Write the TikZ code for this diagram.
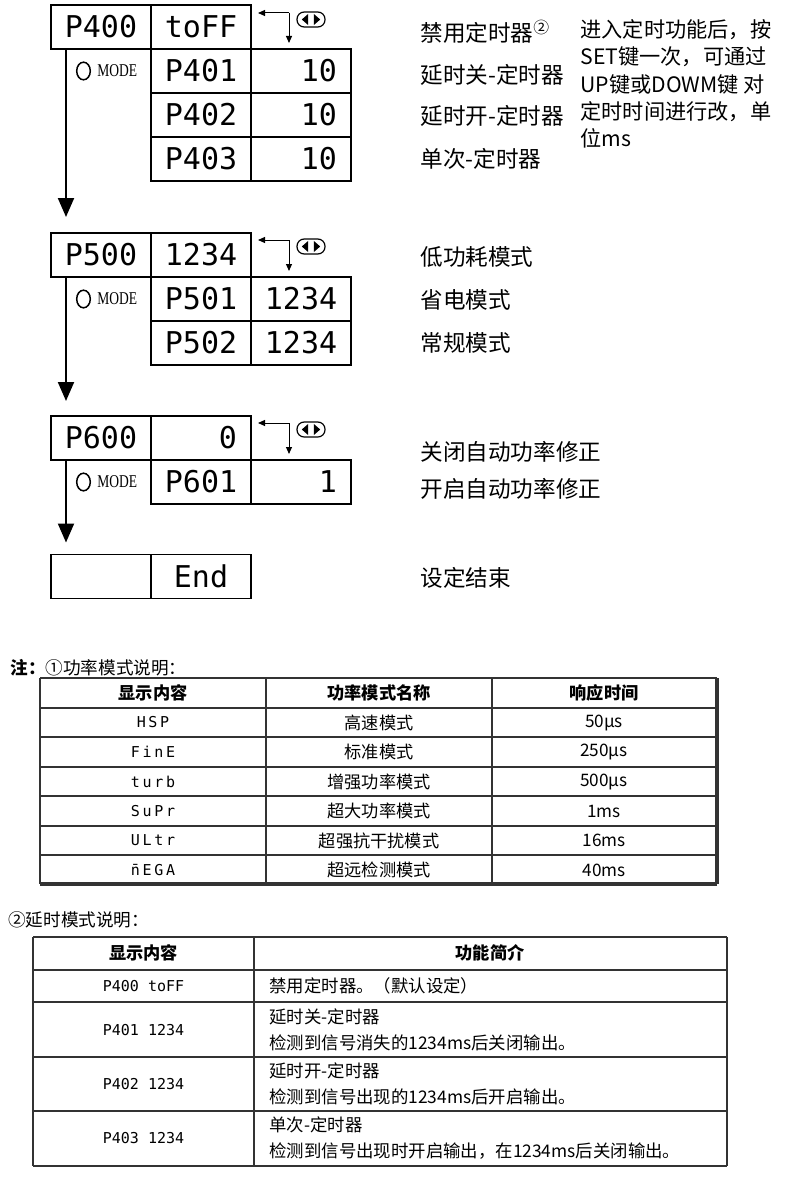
\documentclass[tikz,border=0pt]{standalone}
\usepackage{fontspec}
\setmainfont{Noto Sans CJK SC}
\newfontfamily\lcdfont{DejaVu Sans Mono}
\newfontfamily\lcdwide[LetterSpace=18]{DejaVu Sans Mono}
\newfontfamily\modefont[FakeStretch=0.75]{Liberation Serif}
\usetikzlibrary{positioning,arrows.meta}

\tikzset{
  lcd/.style={draw, line width=0.75pt, outer sep=0pt, inner sep=0pt,
    minimum width=50pt, minimum height=22pt, font=\lcdfont\fontsize{15}{15}\selectfont},
  lcdr/.style={lcd, text width=36pt, align=right},
  flow/.style={line width=1pt, -{Triangle[length=9.5pt,width=8pt]}},
  back/.style={line width=0.5pt, -{Triangle[length=3.5pt,width=3pt]}},
  keypad/.style={draw, line width=0.6pt, rounded corners=3.6pt, inner sep=0pt,
    minimum width=14pt, minimum height=7.5pt,
    path picture={
      \fill[sharp corners] ([xshift=-4.6pt]path picture bounding box.center) -- ++(3.2pt,2.8pt) -- ++(0,-5.6pt) -- cycle;
      \fill[sharp corners] ([xshift=4.6pt]path picture bounding box.center) -- ++(-3.2pt,2.8pt) -- ++(0,-5.6pt) -- cycle;}},
  mode/.style={anchor=west, inner sep=0pt, font=\modefont\fontsize{9}{9}\selectfont},
  lbl/.style={anchor=west, inner sep=0pt, font=\fontsize{11.3}{13}\selectfont},
  note/.style={anchor=west, inner sep=0pt, align=left, font=\fontsize{10.6}{12.3}\selectfont},
  title/.style={anchor=west, inner sep=0pt, font=\fontsize{8.8}{10}\selectfont},
  tline/.style={line width=0.7pt, black!80},
  thead/.style={inner sep=0pt, font=\bfseries\fontsize{8.6}{10}\selectfont},
  tcell/.style={inner sep=0pt, font=\fontsize{8.6}{10}\selectfont},
  tbody/.style={anchor=west, inner sep=0pt, align=left, font=\fontsize{8.7}{12}\selectfont},
  tlcd/.style={inner sep=0pt, font=\lcdfont\fontsize{7.5}{7.5}\selectfont},
  tlcdw/.style={inner sep=0pt, font=\lcdwide\fontsize{7.5}{7.5}\selectfont}
}

\begin{document}
\begin{tikzpicture}[x=0.5pt, y=-0.5pt]
\useasboundingbox (0,0) rectangle (790,1204);

% P400 timer group
\node[lcd] (p400) at (101,27) {P400};
\node[lcd, right=0pt of p400] (t400) {toFF};
\node[lcd, below=0pt of t400] (p401) {P401};
\node[lcdr, right=0pt of p401] (v401) {10};
\node[lcd, below=0pt of p401] (p402) {P402};
\node[lcdr, right=0pt of p402] (v402) {10};
\node[lcd, below=0pt of p402] (p403) {P403};
\node[lcdr, right=0pt of p403] (v403) {10};

% P500 power group
\node[lcd] (p500) at (101,255) {P500};
\node[lcd, right=0pt of p500] (t500) {1234};
\node[lcd, below=0pt of t500] (p501) {P501};
\node[lcd, right=0pt of p501] (v501) {1234};
\node[lcd, below=0pt of p501] (p502) {P502};
\node[lcd, right=0pt of p502] (v502) {1234};

% P600 correction group
\node[lcd] (p600) at (101,438) {P600};
\node[lcdr, right=0pt of p600] (t600) {0};
\node[lcd, below=0pt of t600] (p601) {P601};
\node[lcdr, right=0pt of p601] (v601) {1};

% end
\node[lcd] (pend) at (101,576.5) {};
\node[lcd, right=0pt of pend] (tend) {End};

% key hints
\foreach \g/\y in {400/13,500/240,600/423} {
  \coordinate (b\g) at (289,\y);
  \draw[back, shorten >=3.5pt] (b\g) -- (b\g -| t\g.east);
  \node[keypad] (k\g) at (311,\y+6.5) {};
}
\draw[back, shorten >=3pt] (b400) -- (b400 |- p401.north);
\draw[back, shorten >=3pt] (b500) -- (b500 |- p501.north);
\draw[back, shorten >=3pt] (b600) -- (b600 |- p601.north);

\foreach \g/\r in {400/p401,500/p501,600/p601} {
  \draw[line width=0.75pt] (83.5,0 |- \r.center) ellipse [x radius=3.4pt, y radius=4.4pt];
  \node[mode] (m\g) at (97,0 |- \r.center) {MODE};
}

\draw[flow, shorten >=8pt] ([xshift=7.5pt]p400.south west) -- ([xshift=7.5pt]p500.north west);
\draw[flow, shorten >=7.5pt] ([xshift=7.5pt]p500.south west) -- ([xshift=7.5pt]p600.north west);
\draw[flow, shorten >=6pt] ([xshift=7.5pt]p600.south west) -- ([xshift=7.5pt]pend.north west);

% labels
\foreach \n/\y/\t in {l400/32/{禁用定时器\textsuperscript{②}}, l401/75/延时关-定时器,
    l402/116/延时开-定时器, l403/159/单次-定时器, l500/257/低功耗模式,
    l501/300/省电模式, l502/343/常规模式, l600/452/关闭自动功率修正,
    l601/489/开启自动功率修正, lend/578/设定结束}
  \node[lbl] (\n) at (420,\y) {\t};
\node[note] (hint) at (580,84) {进入定时功能后，按\\[1.4pt]SET键一次，可通过\\[1.4pt]UP键或DOWM键 对\\[1.4pt]定时时间进行改，单\\[1.4pt]位ms};

% table 1
\node[title] (note1) at (10,668) {\textbf{注：}①功率模式说明：};
\foreach \y in {708,737,767,796,826,855} \draw[tline] (40,\y) -- (717,\y);
\foreach \x in {40,266,492} \draw[tline] (\x,678) -- (\x,884);
\draw[tline, line width=1pt] (40,678) -- (717,678);
\draw[tline, line width=1.6pt] (717,678) -- (717,884) (40,884) -- (717,884);
\node[thead] (h1) at (153,693) {显示内容};
\node[thead] (h2) at (379,693) {功率模式名称};
\node[thead] (h3) at (604,693) {响应时间};
\foreach \i/\d/\m/\r in {1/HSP/高速模式/50µs, 2/FinE/标准模式/250µs,
    3/turb/增强功率模式/500µs, 4/SuPr/超大功率模式/1ms,
    5/ULtr/超强抗干扰模式/16ms, 6/{\={n}EGA}/超远检测模式/40ms} {
  \node[tlcdw] (d\i) at (153,693+29.5*\i) {\d};
  \node[tcell] (n\i) at (379,693+29.5*\i) {\m};
  \node[tcell] (s\i) at (604,693+29.5*\i) {\r};
}

% table 2
\node[title] (note2) at (8,920) {②延时模式说明：};
\foreach \y in {937,970,1002,1057,1111,1166} \draw[tline] (33,\y) -- (727,\y);
\foreach \x in {33,254,727} \draw[tline] (\x,937) -- (\x,1166);
\node[thead] (g1) at (143.5,953) {显示内容};
\node[thead] (g2) at (490,953) {功能简介};
\foreach \i/\y/\d/\t in {1/986/P400 toFF/禁用定时器。（默认设定）,
    2/1030/P401 1234/{延时关-定时器\\[1pt]检测到信号消失的1234ms后关闭输出。},
    3/1084/P402 1234/{延时开-定时器\\[1pt]检测到信号出现的1234ms后开启输出。},
    4/1138.5/P403 1234/{单次-定时器\\[1pt]检测到信号出现时开启输出，在1234ms后关闭输出。}} {
  \node[tlcd] (e\i) at (143.5,\y) {\d};
  \node[tbody] (f\i) at (269,\y) {\t};
}
\end{tikzpicture}
\end{document}
